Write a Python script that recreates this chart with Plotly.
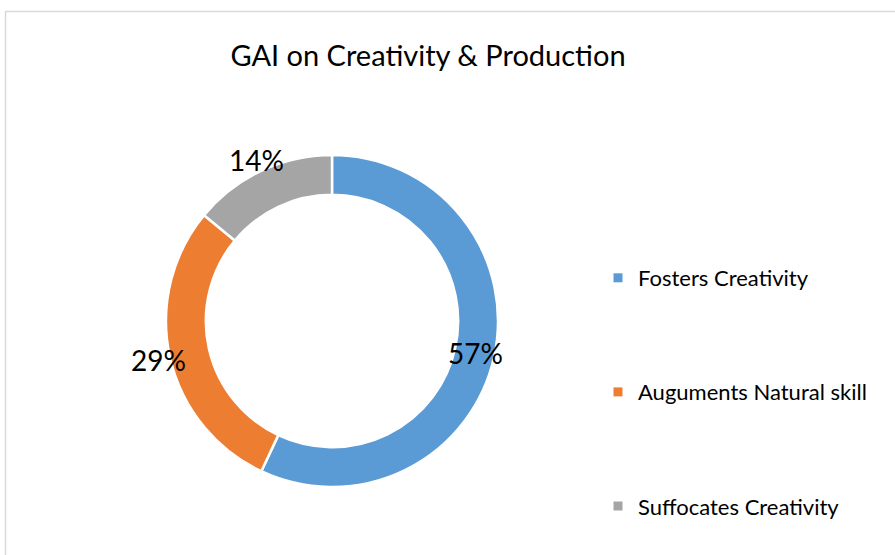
import math
import plotly.graph_objects as go

title_text = "GAI on Creativity & Production"
categories = ["Fosters Creativity", "Auguments Natural skill", "Suffocates Creativity"]
values = [57, 29, 14]
colors = ["#5B9BD5", "#ED7D31", "#A5A5A5"]

W, H = 895, 555
FONT = "Lato"
CX, CY, R = 332, 321, 166          # donut centre / radius in px (layout)
LABEL_R = [147, 178, 178]          # label distance from centre (style)

fig = go.Figure()

fig.add_trace(go.Pie(
    labels=categories,
    values=values,
    hole=0.76,
    sort=False,
    direction="clockwise",
    rotation=0,
    marker=dict(colors=colors, line=dict(color="white", width=2.5)),
    textinfo="none",
    showlegend=False,
    hoverinfo="label+percent",
    domain=dict(x=[(CX - R) / W, (CX + R) / W],
                y=[(H - CY - R) / H, (H - CY + R) / H]),
))

# percent labels at each slice's mid-angle
total = sum(values)
cum = 0
annotations = []
for v, lr in zip(values, LABEL_R):
    mid = (cum + v / 2) / total * 2 * math.pi
    cum += v
    px = CX + lr * math.sin(mid)
    py = CY - lr * math.cos(mid)
    annotations.append(dict(
        x=px / W, y=1 - py / H, xref="paper", yref="paper",
        text=f"{round(v / total * 100)}%", showarrow=False,
        xanchor="center", yanchor="middle",
        font=dict(family=FONT, size=28, color="black"),
    ))

# legend entries (square markers), one group each for spacing
for i, (cat, col) in enumerate(zip(categories, colors)):
    fig.add_trace(go.Scatter(
        x=[None], y=[None], mode="markers", name=cat,
        marker=dict(symbol="square", size=9, color=col),
        legendgroup=f"g{i}", showlegend=True,
    ))

fig.update_layout(
    width=W, height=H,
    margin=dict(l=0, r=0, t=0, b=0),
    paper_bgcolor="white", plot_bgcolor="white",
    font=dict(family=FONT, color="black"),
    title=dict(text=title_text, x=428 / W, xanchor="center",
               y=1 - 56 / H, yanchor="middle",
               font=dict(family=FONT, size=29, color="black")),
    xaxis=dict(visible=False), yaxis=dict(visible=False),
    legend=dict(x=598 / W, xanchor="left", y=1 - 257 / H, yanchor="top",
                font=dict(family=FONT, size=22, color="black"),
                tracegroupgap=82.5, itemwidth=30, bgcolor="rgba(0,0,0,0)"),
    annotations=annotations,
    shapes=[dict(type="rect", xref="paper", yref="paper",
                 x0=5.5 / W, x1=1.2, y0=-0.2, y1=1 - 11.5 / H,
                 line=dict(color="#D9D9D9", width=1.5), fillcolor="rgba(0,0,0,0)",
                 layer="below")],
)

fig.write_html("out.html")
